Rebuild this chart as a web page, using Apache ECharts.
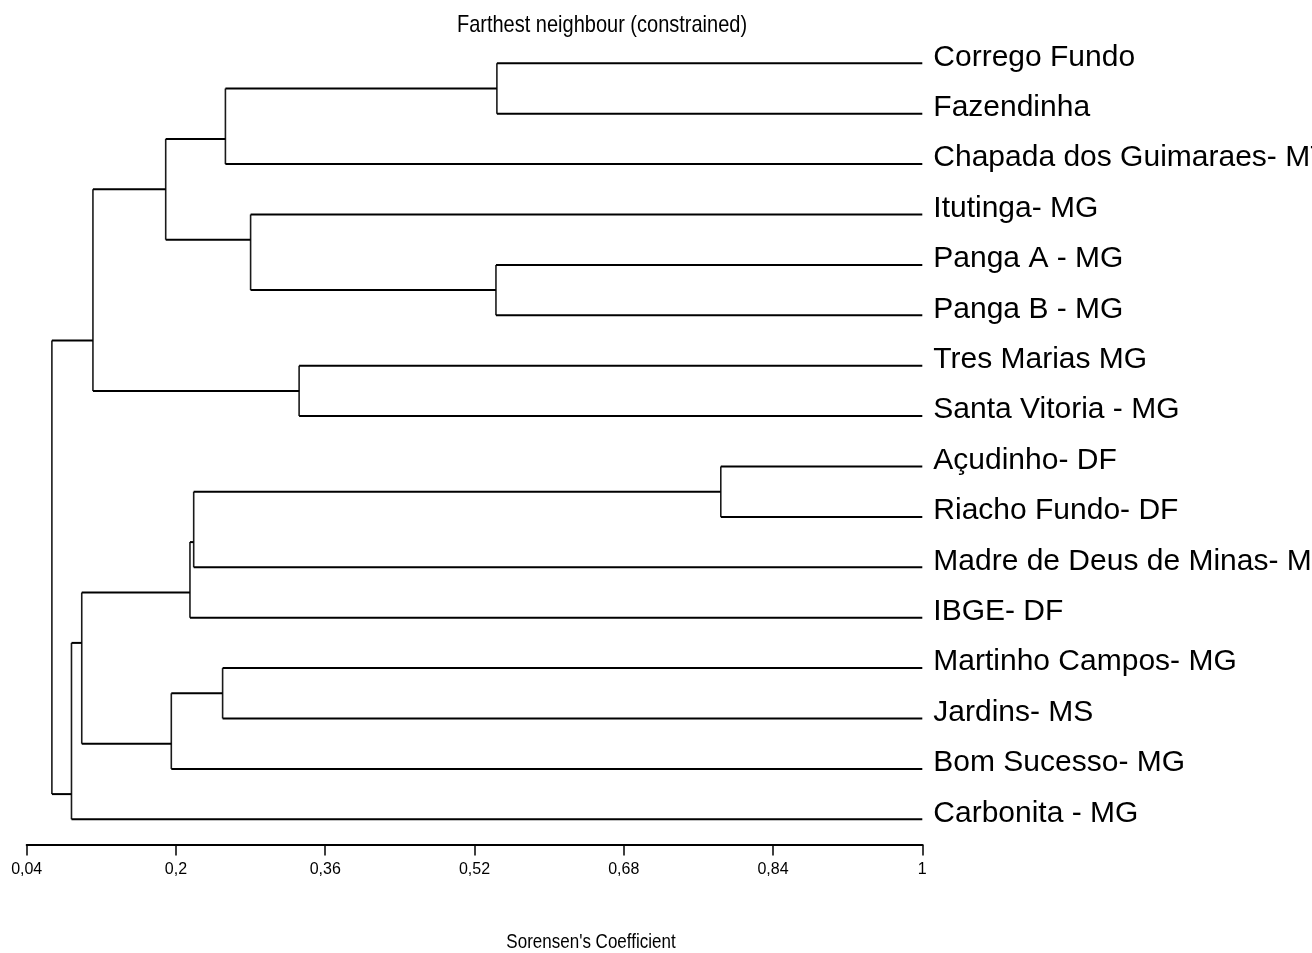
<!DOCTYPE html>
<html>
<head>
<meta charset="utf-8">
<title>Farthest neighbour (constrained)</title>
<script src="https://cdn.jsdelivr.net/npm/echarts@6/dist/echarts.min.js"></script>
<style>
  html, body { margin: 0; padding: 0; background: #fff; }
  #chart { width: 1312px; height: 953px; }
</style>
</head>
<body>
<div id="chart"></div>
<script>
// Sites, in the top-to-bottom order of the dendrogram
const sites = [
  'Corrego Fundo',
  'Fazendinha',
  'Chapada dos Guimaraes- MT',
  'Itutinga- MG',
  'Panga A - MG',
  'Panga B - MG',
  'Tres Marias MG',
  'Santa Vitoria - MG',
  'Açudinho- DF',
  'Riacho Fundo- DF',
  'Madre de Deus de Minas- MG',
  'IBGE- DF',
  'Martinho Campos- MG',
  'Jardins- MS',
  'Bom Sucesso- MG',
  'Carbonita - MG'
];

// Fusion steps: ids < 16 are sites, id 16 + k is the cluster formed at step k
const joinLeft   = [0, 16, 4, 3, 17, 6, 20, 8, 23, 24, 12, 26, 25, 28, 22];
const joinRight  = [1, 2, 5, 18, 19, 7, 21, 9, 10, 11, 13, 14, 27, 15, 29];
// Sorensen similarity at which each fusion happens
const joinLevel  = [0.544, 0.253, 0.543, 0.280, 0.189, 0.332, 0.111, 0.784,
                    0.219, 0.215, 0.250, 0.195, 0.099, 0.088, 0.067];

const axisTicks = [0.04, 0.2, 0.36, 0.52, 0.68, 0.84, 1];

const FONT = '"Liberation Sans", Arial, sans-serif';

// ---- dendrogram geometry (in data units: x = similarity, y = row) ----
const n = sites.length;
const level = [];   // similarity of each node (sites sit at 1)
const row = [];     // row of each node
const last = [];    // last row covered by each node
for (let i = 0; i < n; i++) { level[i] = 1; row[i] = i; last[i] = i; }
joinLeft.forEach((a, k) => {
  const b = joinRight[k];
  const id = n + k;
  level[id] = joinLevel[k];
  // a cluster is drawn on the boundary between its two branches
  row[id] = last[a] + 0.5;
  last[id] = last[b];
});

const segments = [];
joinLeft.forEach((a, k) => {
  const b = joinRight[k];
  const h = joinLevel[k];
  segments.push([h, row[a], h, row[b], 'v']);
  segments.push([h, row[a], level[a], row[a], 'h']);
  segments.push([h, row[b], level[b], row[b], 'h']);
});

const chart = echarts.init(document.getElementById('chart'), null, { renderer: 'canvas' });

// site names sit slightly above their branch line, so they get their own grid
const LABEL_LIFT = 6;

chart.setOption({
  backgroundColor: '#ffffff',
  animation: false,
  grid: [
    {
      left: 26.7, right: 389.7, top: 38.1, bottom: 108.5,
      containLabel: false, outerBoundsMode: 'none'
    },
    {
      left: 26.7, right: 389.7, top: 38.1 - LABEL_LIFT, bottom: 108.5 + LABEL_LIFT,
      containLabel: false, outerBoundsMode: 'none'
    }
  ],
  xAxis: [
    {
      type: 'value',
      gridIndex: 0,
      min: 0.04,
      max: 1,
      axisLine: { show: true, onZero: false, lineStyle: { color: '#000', width: 2 } },
      axisTick: {
        show: true, inside: false, length: 11, customValues: axisTicks,
        lineStyle: { color: '#000', width: 1.5 }
      },
      axisLabel: {
        customValues: axisTicks,
        margin: 17,
        color: '#000',
        fontFamily: FONT,
        fontSize: 16,
        formatter: v => String(+v.toFixed(2)).replace('.', ',')
      },
      splitLine: { show: false }
    },
    {
      type: 'value',
      gridIndex: 1,
      min: 0.04,
      max: 1,
      show: false
    }
  ],
  yAxis: [
    {
      type: 'value',
      gridIndex: 0,
      min: -0.5,
      max: n - 0.5,
      inverse: true,
      show: false
    },
    {
      type: 'category',
      gridIndex: 1,
      data: sites,
      position: 'right',
      inverse: true,
      boundaryGap: true,
      axisLine: { show: false },
      axisTick: { show: false },
      splitLine: { show: false },
      axisLabel: {
        margin: 11,
        color: '#000',
        fontFamily: FONT,
        fontSize: 30,
        align: 'left',
        verticalAlign: 'middle',
        interval: 0
      }
    }
  ],
  series: [{
    type: 'custom',
    xAxisIndex: 0,
    yAxisIndex: 0,
    clip: false,
    data: segments,
    encode: { x: [0, 2], y: [1, 3] },
    renderItem: (params, api) => {
      const p1 = api.coord([api.value(0), api.value(1)]);
      const p2 = api.coord([api.value(2), api.value(3)]);
      const vertical = segments[params.dataIndex][4] === 'v';
      return {
        type: 'line',
        shape: { x1: p1[0], y1: p1[1], x2: p2[0], y2: p2[1] },
        style: {
          stroke: vertical ? '#1a1a1a' : '#000',
          lineWidth: vertical ? 1.6 : 2
        }
      };
    }
  }],
  graphic: [
    {
      type: 'text',
      x: 602,
      y: 25,
      scaleY: 1.2,
      style: {
        text: 'Farthest neighbour (constrained)',
        fill: '#000',
        font: '20px ' + FONT,
        align: 'center',
        verticalAlign: 'middle'
      }
    },
    {
      type: 'text',
      x: 591,
      y: 942,
      scaleY: 1.2,
      style: {
        text: "Sorensen's Coefficient",
        fill: '#000',
        font: '17px ' + FONT,
        align: 'center',
        verticalAlign: 'middle'
      }
    }
  ]
});
</script>
</body>
</html>
